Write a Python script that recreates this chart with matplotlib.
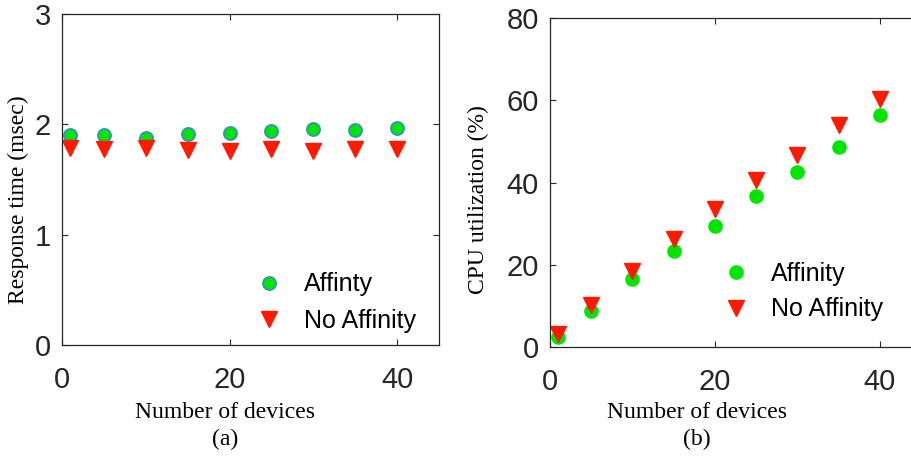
import matplotlib.pyplot as plt

devices = [1, 5, 10, 15, 20, 25, 30, 35, 40]
resp_affinity = [1.90, 1.90, 1.875, 1.91, 1.925, 1.94, 1.955, 1.95, 1.965]
resp_no_affinity = [1.79, 1.78, 1.79, 1.77, 1.76, 1.78, 1.76, 1.78, 1.78]
cpu_affinity = [2.5, 8.8, 16.5, 23.4, 29.5, 36.7, 42.5, 48.7, 56.3]
cpu_no_affinity = [3.1, 10.2, 18.6, 26.2, 33.5, 40.6, 46.7, 54.0, 60.3]

green = '#00e600'
red = '#ff1a00'
dark = '#262626'
serif = 'Liberation Serif'

fig = plt.figure(figsize=(9.11, 4.57), dpi=100)
ax1 = fig.add_axes([62 / 911, 112 / 457, 377 / 911, 331 / 457])
ax2 = fig.add_axes([550 / 911, 110 / 457, 371 / 911, 329 / 457])


def style(ax):
    ax.tick_params(direction='in', length=4, width=0.8, colors=dark, labelsize=21,
                   top=True, right=True)
    ax.tick_params(axis='x', pad=15)
    ax.tick_params(axis='y', pad=8)
    for s in ax.spines.values():
        s.set_color(dark)
        s.set_linewidth(0.9)
    for lbl in ax.get_xticklabels() + ax.get_yticklabels():
        lbl.set_family('Liberation Sans')


ax1.plot(devices, resp_affinity, 'o', ms=9.5, mfc=green, mec='#3a8ad0', mew=1.2, label='Affinty')
ax1.plot(devices, resp_no_affinity, 'v', ms=11, color=red, mec=red, label='No Affinity')
ax1.set_xlim(0, 45)
ax1.set_ylim(0, 3)
ax1.set_xticks([0, 20, 40])
ax1.set_yticks([0, 1, 2, 3])
style(ax1)
ax1.set_xlabel('Number of devices', family=serif, fontsize=17, va='center')
ax1.set_ylabel('Response time (msec)', family=serif, fontsize=17, va='center')
ax1.xaxis.set_label_coords((225 - 62) / 377, (345 - 412) / 331)
ax1.yaxis.set_label_coords((18 - 62) / 377, (345 - 200) / 331)
ax1.legend(loc='center left', bbox_to_anchor=(0.437, 0.128), frameon=False,
           prop={'family': 'Liberation Sans', 'size': 18}, handletextpad=0.6,
           handlelength=1.6, labelspacing=0.5)

ax2.plot(devices, cpu_affinity, 'o', ms=9.5, color=green, mec=green, label='Affinity')
ax2.plot(devices, cpu_no_affinity, 'v', ms=11, color=red, mec=red, label='No Affinity')
ax2.set_xlim(0, 45)
ax2.set_ylim(0, 80)
ax2.set_xticks([0, 20, 40])
ax2.set_yticks([0, 20, 40, 60, 80])
style(ax2)
ax2.set_xlabel('Number of devices', family=serif, fontsize=17, va='center')
ax2.set_ylabel('CPU utilization (%)', family=serif, fontsize=17, va='center')
ax2.xaxis.set_label_coords((697 - 550) / 371, (347 - 412) / 329)
ax2.yaxis.set_label_coords((478 - 550) / 371, (347 - 200) / 329)
ax2.legend(loc='center left', bbox_to_anchor=(0.386, 0.168), frameon=False,
           prop={'family': 'Liberation Sans', 'size': 18}, handletextpad=0.6,
           handlelength=1.6, labelspacing=0.45)

fig.text(225 / 911, 1 - 439 / 457, '(a)', family=serif, fontsize=17, ha='center', va='center')
fig.text(697 / 911, 1 - 439 / 457, '(b)', family=serif, fontsize=17, ha='center', va='center')

fig.savefig('out.png', dpi=100)
